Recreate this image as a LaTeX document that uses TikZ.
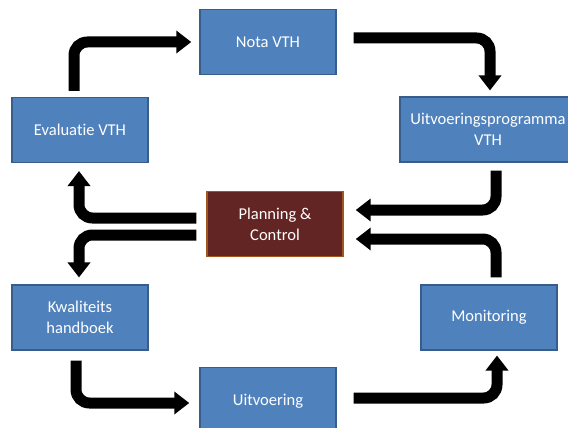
\documentclass[tikz,border=0pt]{standalone}
\usepackage{fontspec}
\setmainfont{Carlito}[Ligatures={NoCommon}]
\usetikzlibrary{arrows.meta}
\definecolor{boxblue}{HTML}{4F81BD}
\definecolor{boxedge}{HTML}{385D8A}
\definecolor{pcred}{HTML}{632523}
\definecolor{pcedge}{HTML}{A0561E}
\begin{document}
\begin{tikzpicture}[x=0.75pt,y=-0.75pt,
  stage/.style={draw=boxedge,line width=1.1pt,fill=boxblue,text=white,align=center,
    minimum width=102pt,minimum height=48.5pt,inner sep=2pt,
    font=\fontsize{12.4}{15.5}\selectfont},
  flow/.style={line width=8.25pt,rounded corners=10pt,
    -{Triangle[width=16.5pt,length=11.25pt]}}]
\clip (0,0) rectangle (568,428);

\node[stage] (nota) at (268,42) {Nota VTH};
\node[stage] (eval) at (80,130) {Evaluatie VTH};
\node[stage,minimum width=132pt] (uitprog) at (488,129.5) {Uitvoeringsprogramma\\VTH};
\node[stage,draw=pcedge,fill=pcred] (plan) at (275,224) {Planning \&\\Control};
\node[stage] (kwal) at (80,317.5) {Kwaliteits\\handboek};
\node[stage,minimum height=50pt] (uitv) at (268,401) {Uitvoering};
\node[stage] (mon) at (489,317.5) {Monitoring};

% cycle
\draw[flow,shorten <=4.5pt,shorten >=6pt] ([xshift=-4.5pt]eval.north) |- (nota.west);
\draw[flow,shorten <=12.75pt,shorten >=4.5pt] ([yshift=3pt]nota.east) -| ([xshift=1.5pt]uitprog.north);
\draw[flow,shorten <=6pt,shorten >=9pt] ([xshift=6pt]uitprog.south) |- ([yshift=10.5pt]plan.east);
\draw[flow,shorten <=5.25pt,shorten >=9pt] ([xshift=5.25pt]mon.north) |- ([yshift=-11.25pt]plan.east);
\draw[flow,shorten <=7.5pt,shorten >=6pt] ([yshift=4.5pt]plan.west) -| ([xshift=-0.75pt]eval.south);
\draw[flow,shorten <=7.5pt,shorten >=5.25pt] ([yshift=-8.25pt]plan.west) -| ([xshift=-0.75pt]kwal.north);
\draw[flow,shorten <=7.5pt,shorten >=7.5pt] ([xshift=-3pt]kwal.south) |- ([yshift=-1.5pt]uitv.west);
\draw[flow,shorten <=12.75pt,shorten >=3.75pt] ([yshift=2.25pt]uitv.east) -| ([xshift=6pt]mon.south);
\end{tikzpicture}
\end{document}
